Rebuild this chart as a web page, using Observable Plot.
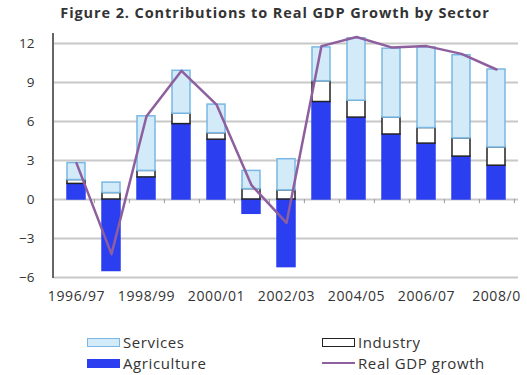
<!DOCTYPE html>
<html>
<head>
<meta charset="utf-8">
<script src="https://cdn.jsdelivr.net/npm/d3@7"></script>
<script src="https://cdn.jsdelivr.net/npm/@observablehq/plot@0.6"></script>
<style>
  body { margin: 0; width: 527px; height: 375px; background: #fff; font-family: "Open Sans", sans-serif; color: #333; position: relative; overflow: hidden; }
  #title { position: absolute; top: 3px; left: 0; width: 527px; padding-left: 23px; box-sizing: border-box; text-align: center; font-weight: bold; font-size: 14.5px; letter-spacing: 0.9px; color: #333; white-space: nowrap; }
  #chart { position: absolute; top: 25px; left: 0; }
  .leg { position: absolute; font-size: 15px; letter-spacing: 0.6px; color: #333; display: flex; align-items: center; line-height: 16px; white-space: nowrap; }
  .sw { width: 33px; height: 9px; margin-right: 3px; box-sizing: border-box; }
  .ln { width: 33px; height: 2.5px; margin-right: 3px; }
</style>
</head>
<body>
<div id="title">Figure 2. Contributions to Real GDP Growth by Sector</div>
<div id="chart"></div>
<div class="leg" style="left:87px; top:334px;"><div class="sw" style="background:#d3eaf8;border:1.5px solid #79b8e4;"></div>Services</div>
<div class="leg" style="left:322px; top:334px;"><div class="sw" style="background:#fff;border:1.5px solid #222;"></div>Industry</div>
<div class="leg" style="left:87px; top:355px;"><div class="sw" style="background:#2b3ff0;"></div>Agriculture</div>
<div class="leg" style="left:322px; top:355px;"><div class="ln" style="background:#8e5f9e;"></div>Real GDP growth</div>
<script>
const years = ["1996/97","1997/98","1998/99","1999/00","2000/01","2001/02","2002/03","2003/04","2004/05","2005/06","2006/07","2007/08","2008/09"];
const agriculture = [1.2, -5.5, 1.7, 5.8, 4.6, -1.1, -5.2, 7.5, 6.3, 5.0, 4.3, 3.3, 2.6];
const industry    = [0.3,  0.5, 0.5, 0.8, 0.5,  0.8,  0.7, 1.6, 1.3, 1.3, 1.2, 1.4, 1.4];
const services    = [1.3,  0.8, 4.2, 3.3, 2.2,  1.4,  2.4, 2.6, 4.8, 5.3, 6.2, 6.4, 6.0];
const gdpGrowth   = [2.8, -4.2, 6.4, 9.9, 7.3,  1.1, -1.8, 11.8, 12.5, 11.7, 11.8, 11.2, 10.0];
const yTicks = [-6, -3, 0, 3, 6, 9, 12];
const xTickLabels = ["1996/97","1998/99","2000/01","2002/03","2004/05","2006/07","2008/09"];

const FILL = {Agriculture: "#2b3ff0", Industry: "#ffffff", Services: "#d3eaf8"};
const STROKE = {Agriculture: "#2b3ff0", Industry: "#222222", Services: "#79b8e4"};

const rows = [];
years.forEach((yr, i) => {
  rows.push({year: yr, sector: "Agriculture", value: agriculture[i]});
  rows.push({year: yr, sector: "Industry", value: industry[i]});
  rows.push({year: yr, sector: "Services", value: services[i]});
});
const gdpRows = years.map((yr, i) => ({year: yr, gdp: gdpGrowth[i]}));

const W = 527, H = 285, ML = 53, MR = 9, MT = 8, MB = 33;
const step = (W - ML - MR) / years.length;

const chart = Plot.plot({
  width: W, height: H,
  marginLeft: ML, marginRight: MR, marginTop: MT, marginBottom: MB,
  style: {fontFamily: "Open Sans, sans-serif", fontSize: "13.5px", color: "#333", background: "#fff"},
  x: {domain: years, paddingInner: 0.5, paddingOuter: 0.25, ticks: xTickLabels, tickSize: 0, tickPadding: 14, label: null, tickFormat: d => d === "2008/09" ? "2008/0" : d},
  y: {domain: [-6, 12], insetTop: 10, ticks: yTicks, tickSize: 0, tickPadding: 19, label: null},
  color: {type: "identity"},
  marks: [
    Plot.ruleY(yTicks, {stroke: "#c8c8c8", strokeWidth: 2}),
    Plot.ruleX(years, {x: d => d, y1: 0, y2: -0.32, dx: step / 2, stroke: "#999", strokeWidth: 1}),
    Plot.barY(rows, Plot.stackY({x: "year", y: "value", z: "sector", fill: d => FILL[d.sector], stroke: d => STROKE[d.sector], strokeWidth: 1.5})),
    Plot.line(gdpRows, {x: "year", y: "gdp", stroke: "#8e5f9e", strokeWidth: 2.5})
  ]
});
document.getElementById("chart").appendChild(chart);
d3.select(chart).selectAll("[aria-label='x-axis'] text, g[aria-label='x-axis tick label'] text")
  .style("font-size", "14px").style("letter-spacing", "0.6px");
d3.select(chart).append("line")
  .attr("x1", ML).attr("x2", ML).attr("y1", MT).attr("y2", H - MB + 1)
  .attr("stroke", "#666").attr("stroke-width", 2);
</script>
</body>
</html>
